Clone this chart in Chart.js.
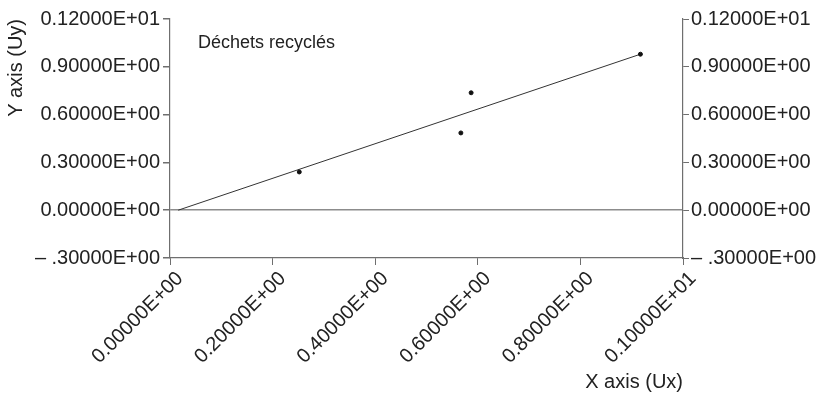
<!DOCTYPE html>
<html>
<head>
<meta charset="utf-8">
<script src="https://cdn.jsdelivr.net/npm/chart.js@4/dist/chart.umd.min.js"></script>
<style>
    html, body { margin: 0; padding: 0; background: #fff; }
    #wrap { width: 826px; height: 394px; }
</style>
</head>
<body>
<div id="wrap"><canvas id="dechetsChart"></canvas></div>
<script>
// ==================== DATA ====================
const serieNom = 'Déchets recyclés';
const pointsX = [0.252, 0.567, 0.587, 0.917];
const pointsY = [0.240, 0.485, 0.737, 0.979];
const droiteX = [0.016, 0.917];
const droiteY = [0.000, 0.979];

const xTickValues = [0, 0.2, 0.4, 0.6, 0.8, 1.0];
const xTickLabels = ['0.00000E+00', '0.20000E+00', '0.40000E+00', '0.60000E+00', '0.80000E+00', '0.10000E+01'];
const yTickValues = [-0.3, 0, 0.3, 0.6, 0.9, 1.2];
const yTickLabels = ['\u2013 .30000E+00', '0.00000E+00', '0.30000E+00', '0.60000E+00', '0.90000E+00', '0.12000E+01'];

// ==================== CHART ====================
const fuente = "'Liberation Sans', Arial, sans-serif";
const gris = '#6f6f6f';
const texto = '#222';

// petit texte de série dans la zone du graphique
const etiquetteSerie = {
    id: 'etiquetteSerie',
    afterDraw(chart) {
        const {ctx, chartArea} = chart;
        ctx.save();
        ctx.font = '18px ' + fuente;
        ctx.fillStyle = texto;
        ctx.textBaseline = 'middle';
        ctx.fillText(chart.data.datasets[0].label, chartArea.left + 28, chartArea.top + 24);
        ctx.restore();
    }
};

function fixerTicks(values) {
    return function(scale) {
        scale.ticks = values.map(v => ({value: v}));
    };
}

new Chart(document.getElementById('dechetsChart'), {
    type: 'scatter',
    data: {
        datasets: [{
            label: serieNom,
            data: pointsX.map((x, i) => ({x: x, y: pointsY[i]})),
            backgroundColor: '#111',
            borderColor: '#111',
            pointRadius: 2,
            yAxisID: 'y'
        }, {
            label: 'droite',
            data: droiteX.map((x, i) => ({x: x, y: droiteY[i]})),
            showLine: true,
            borderColor: '#333',
            borderWidth: 1,
            pointRadius: 0,
            yAxisID: 'y'
        }]
    },
    options: {
        responsive: true,
        maintainAspectRatio: false,
        animation: false,
        layout: { padding: { top: 19 } },
        plugins: {
            legend: { display: false },
            tooltip: { enabled: false }
        },
        scales: {
            x: {
                type: 'linear',
                min: 0,
                max: 1,
                afterBuildTicks: fixerTicks(xTickValues),
                afterFit: function(scale) { scale.height = 136; },
                ticks: {
                    autoSkip: false,
                    minRotation: 45,
                    maxRotation: 45,
                    padding: 2,
                    labelOffset: 10,
                    color: texto,
                    font: { family: fuente, size: 20 },
                    callback: function(value, index) { return xTickLabels[index]; }
                },
                grid: { drawOnChartArea: false, tickLength: 7, tickColor: gris },
                border: { display: true, color: gris, width: 1.2 },
                title: {
                    display: true,
                    text: 'X axis (Ux)',
                    align: 'end',
                    color: texto,
                    font: { family: fuente, size: 20 },
                    padding: { top: 0, bottom: 0 }
                }
            },
            y: {
                type: 'linear',
                position: 'left',
                min: -0.3,
                max: 1.2,
                afterBuildTicks: fixerTicks(yTickValues),
                afterFit: function(scale) { scale.width = 170; },
                ticks: {
                    padding: 3,
                    color: texto,
                    font: { family: fuente, size: 20 },
                    callback: function(value, index) { return yTickLabels[index]; }
                },
                grid: {
                    tickLength: 7,
                    tickColor: gris,
                    lineWidth: 1.5,
                    color: function(context) {
                        return context.tick && context.tick.value === 0 ? '#8c8c8c' : 'rgba(0,0,0,0)';
                    }
                },
                border: { display: true, color: gris, width: 1.2 },
                title: {
                    display: true,
                    text: 'Y axis (Uy)',
                    align: 'end',
                    color: texto,
                    font: { family: fuente, size: 20 },
                    padding: { top: 4, bottom: 0 }
                }
            },
            y2: {
                type: 'linear',
                position: 'right',
                min: -0.3,
                max: 1.2,
                afterBuildTicks: fixerTicks(yTickValues),
                afterFit: function(scale) { scale.width = 143; },
                ticks: {
                    padding: 2,
                    color: texto,
                    font: { family: fuente, size: 20 },
                    callback: function(value, index) { return yTickLabels[index]; }
                },
                grid: { drawOnChartArea: false, tickLength: 6, tickColor: gris },
                border: { display: true, color: gris, width: 1.2 }
            }
        }
    },
    plugins: [etiquetteSerie]
});
</script>
</body>
</html>
